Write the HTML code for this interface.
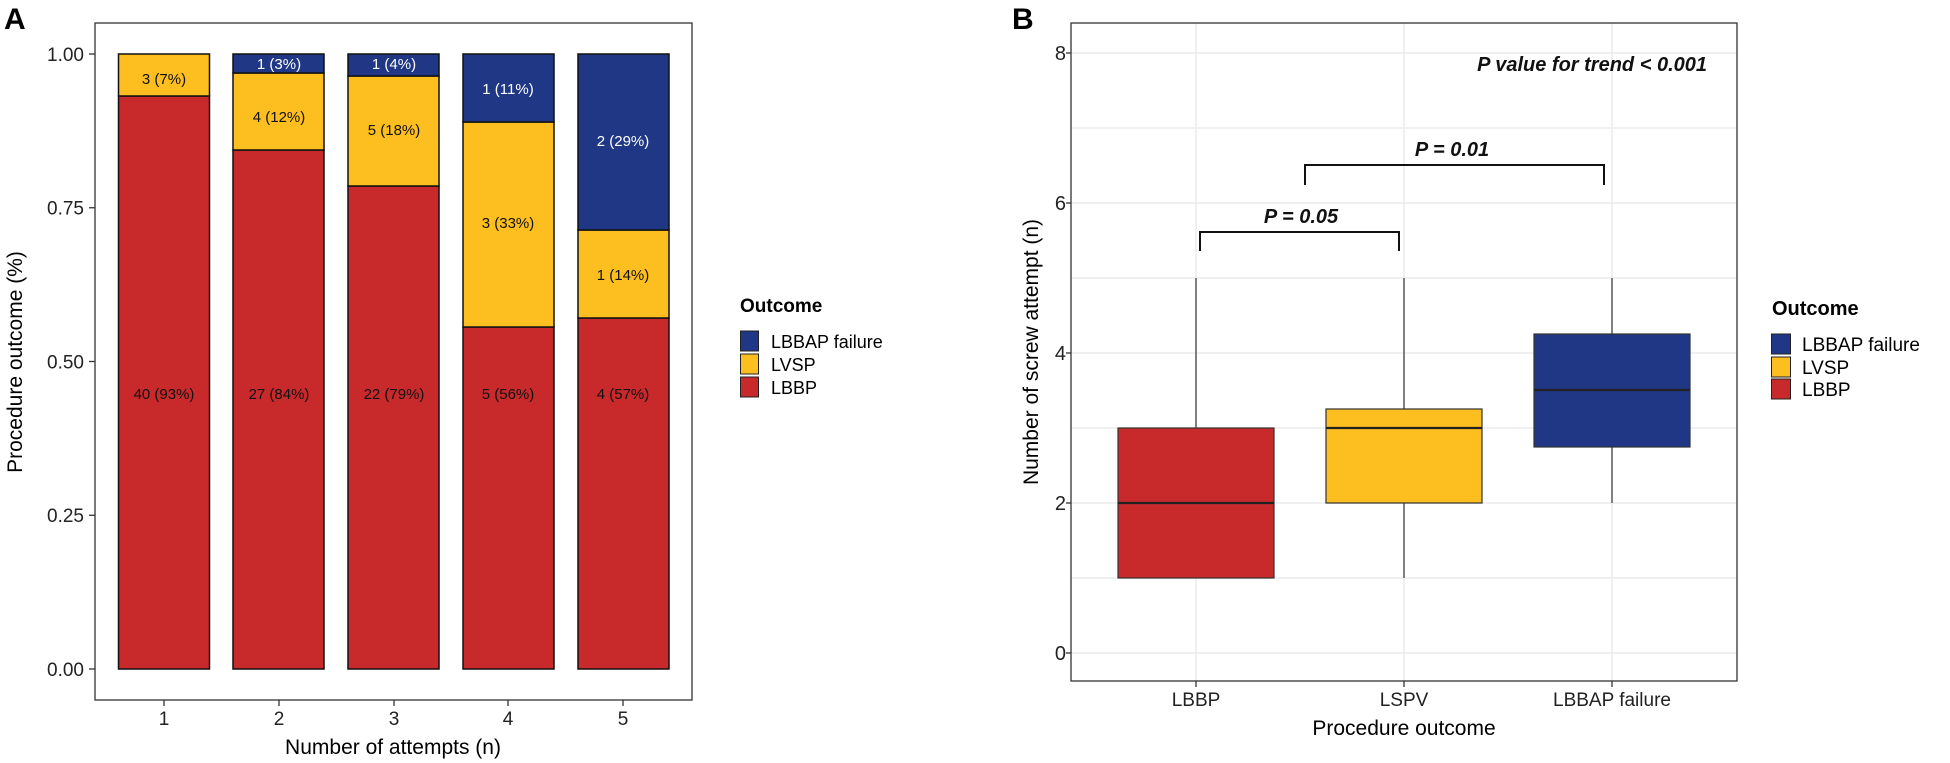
<!DOCTYPE html>
<html><head><meta charset="utf-8"><style>
html,body{margin:0;padding:0;background:#fff;}
svg{display:block;font-family:"Liberation Sans",Arial,sans-serif;}
</style></head><body>
<svg width="1950" height="763" viewBox="0 0 1950 763" xmlns="http://www.w3.org/2000/svg">
<rect width="1950" height="763" fill="#fff"/>
<!-- Panel A -->
<text x="4" y="29" font-size="30" font-weight="bold">A</text>
<rect x="95" y="23" width="597" height="677" fill="none" stroke="#333" stroke-width="1.3"/>
<g stroke="#333" stroke-width="1.3">
<line x1="89" y1="54" x2="95" y2="54"/><line x1="89" y1="207.75" x2="95" y2="207.75"/><line x1="89" y1="361.5" x2="95" y2="361.5"/><line x1="89" y1="515.25" x2="95" y2="515.25"/><line x1="89" y1="669" x2="95" y2="669"/>
<line x1="164" y1="700" x2="164" y2="706"/><line x1="279" y1="700" x2="279" y2="706"/><line x1="394" y1="700" x2="394" y2="706"/><line x1="508" y1="700" x2="508" y2="706"/><line x1="623" y1="700" x2="623" y2="706"/>
</g>
<g font-size="19" text-anchor="end" fill="#222">
<text x="84" y="61">1.00</text><text x="84" y="214.5">0.75</text><text x="84" y="368.5">0.50</text><text x="84" y="522">0.25</text><text x="84" y="676">0.00</text>
</g>
<g font-size="19" text-anchor="middle" fill="#222">
<text x="164" y="725">1</text><text x="279" y="725">2</text><text x="394" y="725">3</text><text x="508" y="725">4</text><text x="623" y="725">5</text>
</g>
<text x="393" y="754" font-size="21" text-anchor="middle">Number of attempts (n)</text>
<text transform="translate(22,362) rotate(-90)" font-size="21" text-anchor="middle">Procedure outcome (%)</text>
<g stroke="#111" stroke-width="1.5">
<!-- bar1 -->
<rect x="118.5" y="96" width="91" height="573" fill="#C8292B"/>
<rect x="118.5" y="54" width="91" height="42" fill="#FDBE1F"/>
<!-- bar2 -->
<rect x="233" y="150" width="91" height="519" fill="#C8292B"/>
<rect x="233" y="73" width="91" height="77" fill="#FDBE1F"/>
<rect x="233" y="54" width="91" height="19" fill="#1F3784"/>
<!-- bar3 -->
<rect x="348" y="186" width="91" height="483" fill="#C8292B"/>
<rect x="348" y="76" width="91" height="110" fill="#FDBE1F"/>
<rect x="348" y="54" width="91" height="22" fill="#1F3784"/>
<!-- bar4 -->
<rect x="463" y="327" width="91" height="342" fill="#C8292B"/>
<rect x="463" y="122" width="91" height="205" fill="#FDBE1F"/>
<rect x="463" y="54" width="91" height="68" fill="#1F3784"/>
<!-- bar5 -->
<rect x="578" y="318" width="91" height="351" fill="#C8292B"/>
<rect x="578" y="230" width="91" height="88" fill="#FDBE1F"/>
<rect x="578" y="54" width="91" height="176" fill="#1F3784"/>
</g>
<g font-size="15" text-anchor="middle" fill="#111">
<text x="164" y="399">40 (93%)</text><text x="279" y="399">27 (84%)</text><text x="394" y="399">22 (79%)</text><text x="508" y="399">5 (56%)</text><text x="623" y="399">4 (57%)</text>
<text x="164" y="84">3 (7%)</text><text x="279" y="122">4 (12%)</text><text x="394" y="135">5 (18%)</text><text x="508" y="228">3 (33%)</text><text x="623" y="280">1 (14%)</text>
</g>
<g font-size="15" text-anchor="middle" fill="#fff">
<text x="279" y="69">1 (3%)</text><text x="394" y="69">1 (4%)</text><text x="508" y="94">1 (11%)</text><text x="623" y="146">2 (29%)</text>
</g>
<text x="740" y="312" font-size="19" font-weight="bold">Outcome</text>
<g stroke="#222" stroke-width="1">
<rect x="740.5" y="331" width="18" height="20" fill="#1F3784"/>
<rect x="740.5" y="354" width="18" height="20" fill="#FDBE1F"/>
<rect x="740.5" y="377" width="18" height="20" fill="#C8292B"/>
</g>
<g font-size="18"><text x="771" y="348">LBBAP failure</text><text x="771" y="371">LVSP</text><text x="771" y="394">LBBP</text></g>

<!-- Panel B -->
<text x="1012" y="29" font-size="30" font-weight="bold">B</text>
<g stroke="#ebebeb" stroke-width="1.5">
<line x1="1071" y1="53" x2="1737" y2="53"/><line x1="1071" y1="203" x2="1737" y2="203"/><line x1="1071" y1="353" x2="1737" y2="353"/><line x1="1071" y1="503" x2="1737" y2="503"/><line x1="1071" y1="653" x2="1737" y2="653"/>
<line x1="1071" y1="128" x2="1737" y2="128"/><line x1="1071" y1="278" x2="1737" y2="278"/><line x1="1071" y1="428" x2="1737" y2="428"/><line x1="1071" y1="578" x2="1737" y2="578"/>
<line x1="1196" y1="23" x2="1196" y2="681"/><line x1="1404" y1="23" x2="1404" y2="681"/><line x1="1612" y1="23" x2="1612" y2="681"/>
</g>
<rect x="1071" y="23" width="666" height="658" fill="none" stroke="#333" stroke-width="1.3"/>
<g stroke="#333" stroke-width="1.3">
<line x1="1066" y1="53" x2="1071" y2="53"/><line x1="1066" y1="203" x2="1071" y2="203"/><line x1="1066" y1="353" x2="1071" y2="353"/><line x1="1066" y1="503" x2="1071" y2="503"/><line x1="1066" y1="653" x2="1071" y2="653"/>
<line x1="1196" y1="681" x2="1196" y2="687"/><line x1="1404" y1="681" x2="1404" y2="687"/><line x1="1612" y1="681" x2="1612" y2="687"/>
</g>
<g font-size="20" text-anchor="end" fill="#222">
<text x="1066" y="60">8</text><text x="1066" y="210">6</text><text x="1066" y="360">4</text><text x="1066" y="510">2</text><text x="1066" y="660">0</text>
</g>
<g font-size="19" text-anchor="middle" fill="#222">
<text x="1196" y="706">LBBP</text><text x="1404" y="706">LSPV</text><text x="1612" y="706">LBBAP failure</text>
</g>
<text x="1404" y="735" font-size="21" text-anchor="middle">Procedure outcome</text>
<text transform="translate(1038,352) rotate(-90)" font-size="21" text-anchor="middle">Number of screw attempt (n)</text>
<g stroke="#333" stroke-width="1.2">
<line x1="1196" y1="278" x2="1196" y2="428"/>
<rect x="1118" y="428" width="156" height="150" fill="#C8292B"/>
<line x1="1404" y1="278" x2="1404" y2="409"/><line x1="1404" y1="503" x2="1404" y2="578"/>
<rect x="1326" y="409" width="156" height="94" fill="#FDBE1F"/>
<line x1="1612" y1="278" x2="1612" y2="334"/><line x1="1612" y1="447" x2="1612" y2="503"/>
<rect x="1534" y="334" width="156" height="113" fill="#1F3784"/>
</g>
<g stroke="#222" stroke-width="2.2">
<line x1="1118" y1="503" x2="1274" y2="503"/><line x1="1326" y1="428" x2="1482" y2="428"/><line x1="1534" y1="390" x2="1690" y2="390"/>
</g>
<g fill="none" stroke="#111" stroke-width="2">
<polyline points="1200,251 1200,232 1399,232 1399,251"/>
<polyline points="1305,185 1305,165 1604,165 1604,185"/>
</g>
<g font-size="20" font-weight="bold" font-style="italic" fill="#111">
<text x="1301" y="223" text-anchor="middle">P = 0.05</text>
<text x="1452" y="156" text-anchor="middle">P = 0.01</text>
<text x="1707" y="71" text-anchor="end">P value for trend &lt; 0.001</text>
</g>
<text x="1772" y="315" font-size="20" font-weight="bold">Outcome</text>
<g stroke="#222" stroke-width="1">
<rect x="1771.5" y="334" width="19" height="20" fill="#1F3784"/>
<rect x="1771.5" y="357" width="19" height="20" fill="#FDBE1F"/>
<rect x="1771.5" y="379" width="19" height="20" fill="#C8292B"/>
</g>
<g font-size="19"><text x="1802" y="351">LBBAP failure</text><text x="1802" y="374">LVSP</text><text x="1802" y="396">LBBP</text></g>
</svg>
</body></html>
